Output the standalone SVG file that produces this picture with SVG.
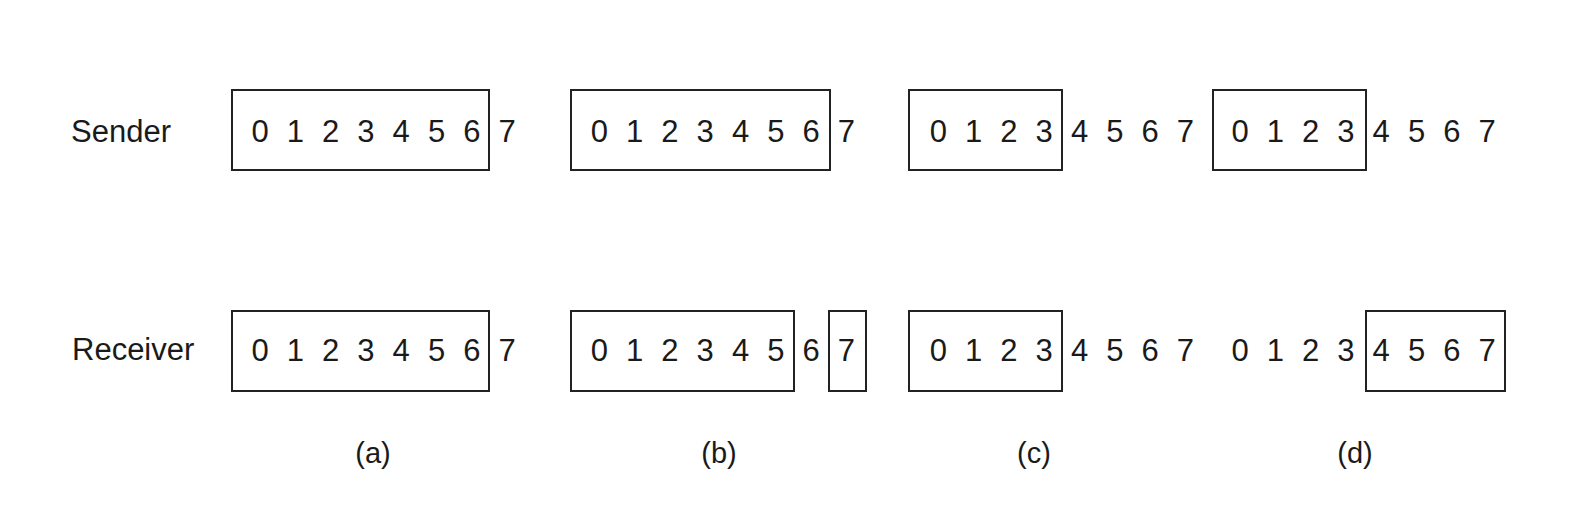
<svg xmlns="http://www.w3.org/2000/svg" width="1576" height="520" viewBox="0 0 1576 520">
<style>
text{font-family:"Liberation Sans",Arial,sans-serif;fill:#1a1a1a}
.d{font-size:31px;text-anchor:middle}
.l{font-size:31px}
.c{font-size:29px;text-anchor:middle}
.b{fill:none;stroke:#222;stroke-width:2}
</style>
<rect width="1576" height="520" fill="#fff"/>
<g id="labels">
<text class="l" x="71" y="142">Sender</text>
<text class="l" x="72" y="360">Receiver</text>
</g>
<g id="sender-a">
<rect class="b" x="232" y="90" width="257" height="80"/>
<text class="d" y="142"><tspan x="260">0</tspan><tspan x="295.3">1</tspan><tspan x="330.6">2</tspan><tspan x="365.9">3</tspan><tspan x="401.2">4</tspan><tspan x="436.5">5</tspan><tspan x="471.8">6</tspan><tspan x="507.1">7</tspan></text>
</g>
<g id="sender-b">
<rect class="b" x="571" y="90" width="259" height="80"/>
<text class="d" y="142"><tspan x="599.3">0</tspan><tspan x="634.6">1</tspan><tspan x="669.9">2</tspan><tspan x="705.2">3</tspan><tspan x="740.5">4</tspan><tspan x="775.8">5</tspan><tspan x="811.1">6</tspan><tspan x="846.4">7</tspan></text>
</g>
<g id="sender-c">
<rect class="b" x="909" y="90" width="153" height="80"/>
<text class="d" y="142"><tspan x="938.3">0</tspan><tspan x="973.6">1</tspan><tspan x="1008.9">2</tspan><tspan x="1044.2">3</tspan><tspan x="1079.5">4</tspan><tspan x="1114.8">5</tspan><tspan x="1150.1">6</tspan><tspan x="1185.4">7</tspan></text>
</g>
<g id="sender-d">
<rect class="b" x="1213" y="90" width="153" height="80"/>
<text class="d" y="142"><tspan x="1240">0</tspan><tspan x="1275.3">1</tspan><tspan x="1310.6">2</tspan><tspan x="1345.9">3</tspan><tspan x="1381.2">4</tspan><tspan x="1416.5">5</tspan><tspan x="1451.8">6</tspan><tspan x="1487.1">7</tspan></text>
</g>
<g id="receiver-a">
<rect class="b" x="232" y="311" width="257" height="80"/>
<text class="d" y="361"><tspan x="260">0</tspan><tspan x="295.3">1</tspan><tspan x="330.6">2</tspan><tspan x="365.9">3</tspan><tspan x="401.2">4</tspan><tspan x="436.5">5</tspan><tspan x="471.8">6</tspan><tspan x="507.1">7</tspan></text>
</g>
<g id="receiver-b">
<rect class="b" x="571" y="311" width="223" height="80"/>
<rect class="b" x="829" y="311" width="37" height="80"/>
<text class="d" y="361"><tspan x="599.3">0</tspan><tspan x="634.6">1</tspan><tspan x="669.9">2</tspan><tspan x="705.2">3</tspan><tspan x="740.5">4</tspan><tspan x="775.8">5</tspan><tspan x="811.1">6</tspan><tspan x="846.4">7</tspan></text>
</g>
<g id="receiver-c">
<rect class="b" x="909" y="311" width="153" height="80"/>
<text class="d" y="361"><tspan x="938.3">0</tspan><tspan x="973.6">1</tspan><tspan x="1008.9">2</tspan><tspan x="1044.2">3</tspan><tspan x="1079.5">4</tspan><tspan x="1114.8">5</tspan><tspan x="1150.1">6</tspan><tspan x="1185.4">7</tspan></text>
</g>
<g id="receiver-d">
<rect class="b" x="1366" y="311" width="139" height="80"/>
<text class="d" y="361"><tspan x="1240">0</tspan><tspan x="1275.3">1</tspan><tspan x="1310.6">2</tspan><tspan x="1345.9">3</tspan><tspan x="1381.2">4</tspan><tspan x="1416.5">5</tspan><tspan x="1451.8">6</tspan><tspan x="1487.1">7</tspan></text>
</g>
<g id="captions">
<text class="c" x="373" y="463">(a)</text>
<text class="c" x="719" y="463">(b)</text>
<text class="c" x="1034" y="463">(c)</text>
<text class="c" x="1355" y="463">(d)</text>
</g>
<g id="connectors"></g>
</svg>
